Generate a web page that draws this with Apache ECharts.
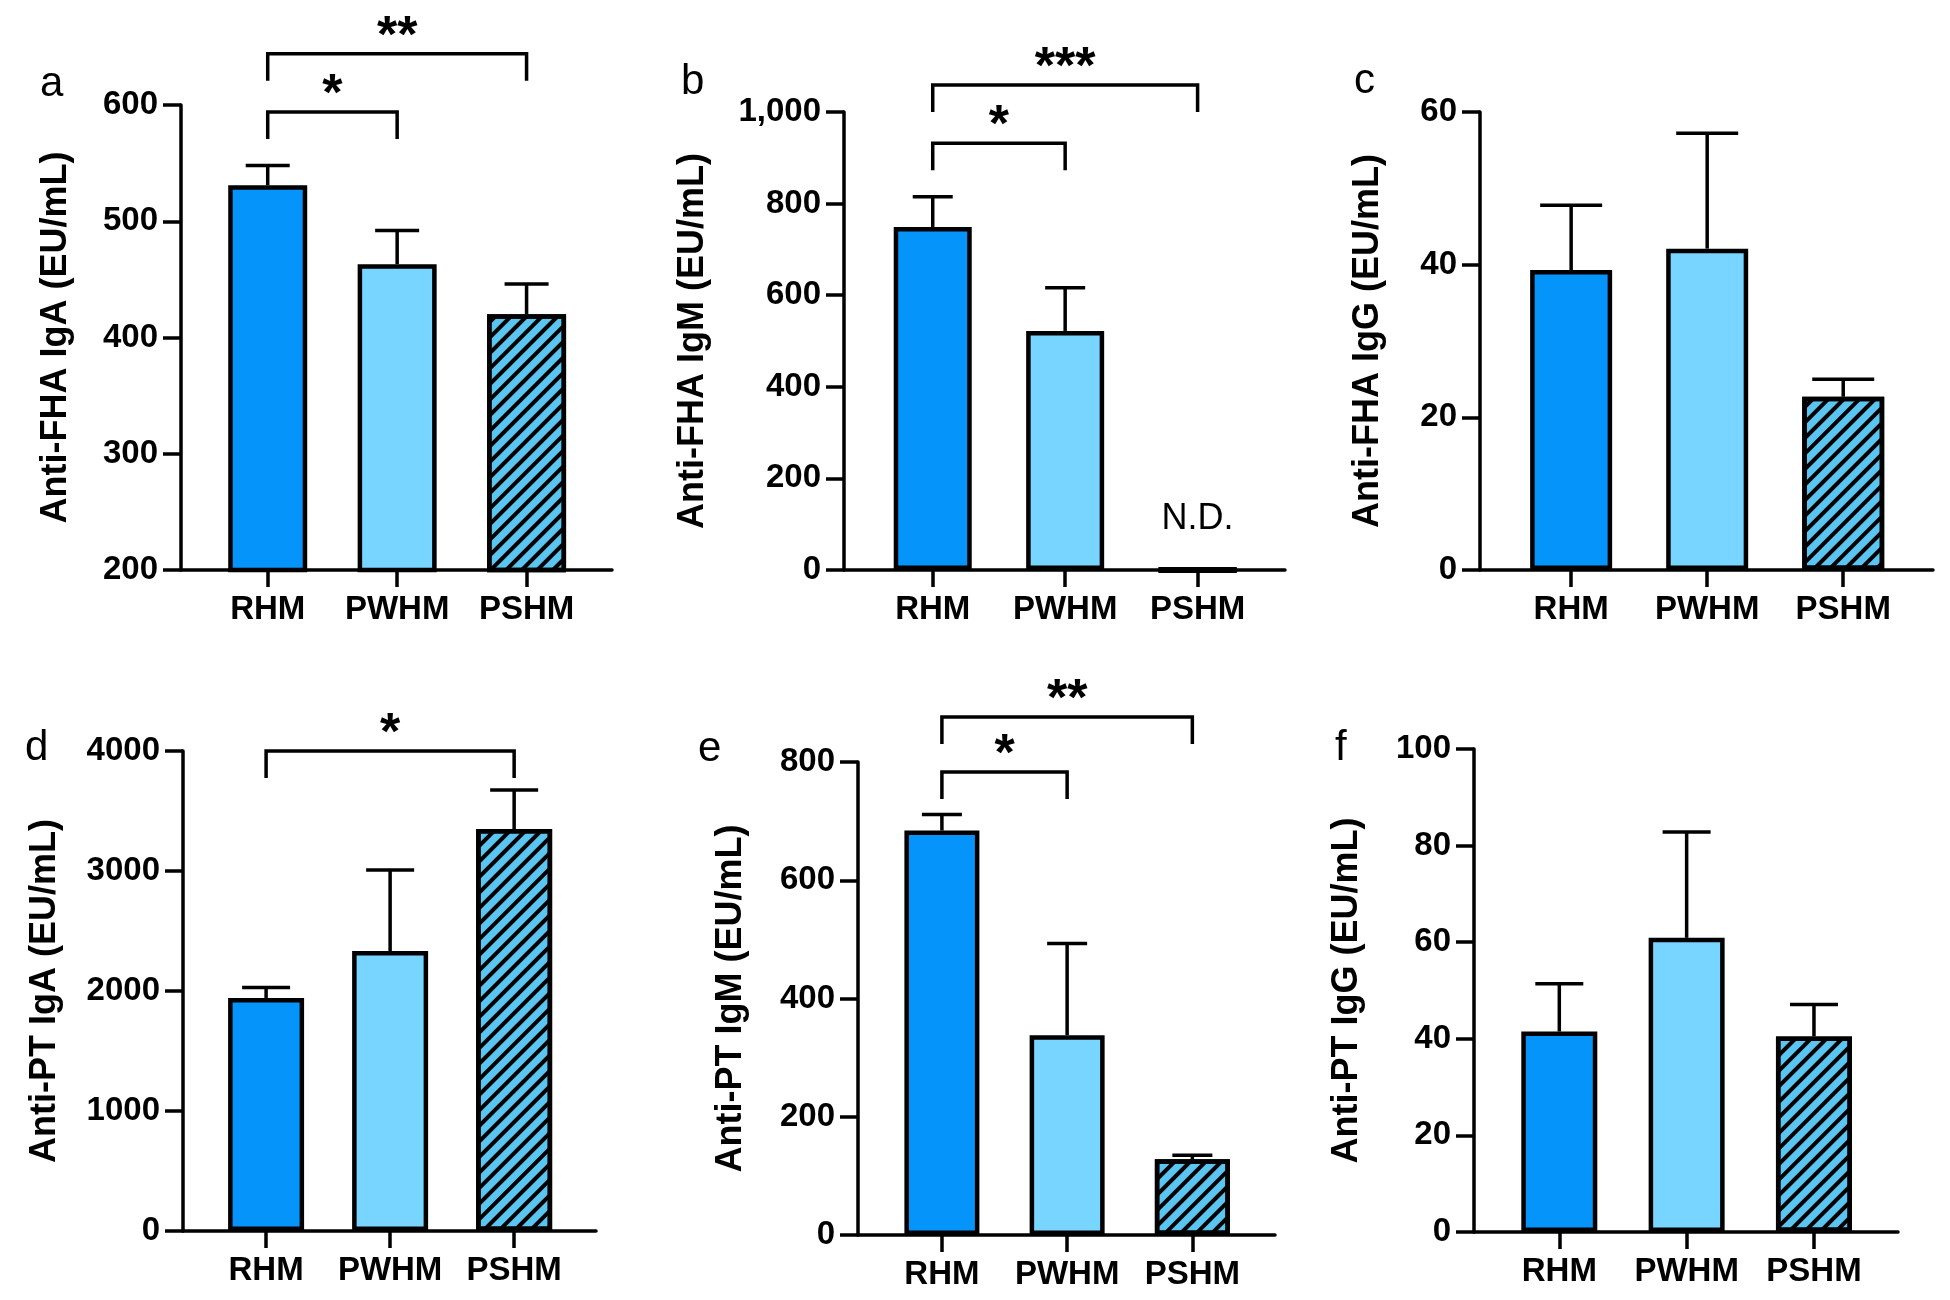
<!DOCTYPE html>
<html><head><meta charset="utf-8">
<script src="https://cdn.jsdelivr.net/npm/echarts@6/dist/echarts.min.js"></script>
<style>html,body{margin:0;padding:0;background:#fff}#c{width:1950px;height:1300px}</style>
</head><body><div id="c"></div>
<script>
// ---------------- data ----------------
const categories = ['RHM', 'PWHM', 'PSHM'];

const fhaIgAMean = [531, 463, 420];
const fhaIgASem  = [17, 29, 26];
const fhaIgMMean = [749, 522, 0];      // PSHM: N.D.
const fhaIgMSem  = [66, 94, 0];
const fhaIgGMean = [39.3, 42.1, 22.7];
const fhaIgGSem  = [8.5, 15.1, 2.3];
const ptIgAMean  = [1942, 2333, 3350];
const ptIgASem   = [87, 675, 325];
const ptIgMMean  = [684, 338, 128];
const ptIgMSem   = [27, 155, 7];
const ptIgGMean  = [41.5, 60.9, 40.5];
const ptIgGSem   = [9.9, 21.9, 6.6];

const notDetected = [false, false, true]; // panel b only

const sigA = [{from: 0, to: 1, label: '*'}, {from: 0, to: 2, label: '**'}];
const sigB = [{from: 0, to: 1, label: '*'}, {from: 0, to: 2, label: '***'}];
const sigD = [{from: 0, to: 2, label: '*'}];
const sigE = [{from: 0, to: 1, label: '*'}, {from: 0, to: 2, label: '**'}];

// ---------------- layout / style ----------------
const FONT = '"Liberation Sans", Arial, Helvetica, sans-serif';
const barColors = ['#0595FA', '#78D5FF', '#5BC5F2'];

const panels = [
  {letter: 'a', name: 'Anti-FHA IgA (EU/mL)', mean: fhaIgAMean, sem: fhaIgASem,
   yMin: 200, yMax: 600, yInt: 100, grid: {left: 181, top: 105, width: 431, height: 465},
   nameGap: 107, barW: 79, cap: 44, sig: sigA, levels: [594, 644], letterXY: [40, 84], comma: false},
  {letter: 'b', name: 'Anti-FHA IgM (EU/mL)', mean: fhaIgMMean, sem: fhaIgMSem,
   yMin: 0, yMax: 1000, yInt: 200, grid: {left: 844, top: 112, width: 441, height: 458},
   nameGap: 133, barW: 78, cap: 40, sig: sigB, levels: [932, 1059], letterXY: [681, 82], comma: true, nd: notDetected},
  {letter: 'c', name: 'Anti-FHA IgG (EU/mL)', mean: fhaIgGMean, sem: fhaIgGSem,
   yMin: 0, yMax: 60, yInt: 20, grid: {left: 1480, top: 112, width: 453, height: 458},
   nameGap: 94, barW: 82, cap: 62, sig: [], levels: [], letterXY: [1354, 81], comma: false},
  {letter: 'd', name: 'Anti-PT IgA (EU/mL)', mean: ptIgAMean, sem: ptIgASem,
   yMin: 0, yMax: 4000, yInt: 1000, grid: {left: 183, top: 751, width: 413, height: 480},
   nameGap: 120, barW: 76, cap: 48, sig: sigD, levels: [4000], letterXY: [25, 748], comma: false},
  {letter: 'e', name: 'Anti-PT IgM (EU/mL)', mean: ptIgMMean, sem: ptIgMSem,
   yMin: 0, yMax: 800, yInt: 200, grid: {left: 858, top: 762, width: 417, height: 473},
   nameGap: 109, barW: 75, cap: 40, sig: sigE, levels: [783, 876], letterXY: [698, 749], comma: false},
  {letter: 'f', name: 'Anti-PT IgG (EU/mL)', mean: ptIgGMean, sem: ptIgGSem,
   yMin: 0, yMax: 100, yInt: 20, grid: {left: 1474, top: 749, width: 424, height: 483},
   nameGap: 109, barW: 76, cap: 48, sig: [], levels: [], letterXY: [1335, 748], comma: false}
];

const X_MIN = -0.67, X_MAX = 2.66;
const catIdx = categories.map((c, i) => i);

const option = {
  backgroundColor: '#fff',
  animation: false,
  grid: [], xAxis: [], yAxis: [], series: [], graphic: []
};

panels.forEach((p, k) => {
  option.grid.push(Object.assign({containLabel: false}, p.grid));
  option.xAxis.push({
    type: 'value', gridIndex: k, min: X_MIN, max: X_MAX,
    axisLine: {show: true, onZero: false, lineStyle: {color: '#000', width: 3.5}},
    axisTick: {show: true, customValues: catIdx, length: 17, lineStyle: {color: '#000', width: 3.5}},
    axisLabel: {show: true, customValues: catIdx, margin: 23,
      formatter: v => categories[Math.round(v)],
      color: '#000', fontSize: 33, fontWeight: 'bold', fontFamily: FONT},
    splitLine: {show: false}
  });
  option.yAxis.push({
    type: 'value', gridIndex: k, min: p.yMin, max: p.yMax, interval: p.yInt,
    name: p.name, nameLocation: 'middle', nameGap: p.nameGap,
    nameTextStyle: {color: '#000', fontSize: 36, fontWeight: 'bold', fontFamily: FONT},
    axisLine: {show: true, onZero: false, lineStyle: {color: '#000', width: 3.5}},
    axisTick: {show: true, length: 18, lineStyle: {color: '#000', width: 3.5}},
    axisLabel: {margin: 23, color: '#000', fontSize: 33, fontWeight: 'bold', fontFamily: FONT,
      formatter: v => p.comma ? v.toLocaleString('en-US') : String(v)},
    splitLine: {show: false}
  });

  // bars
  option.series.push({
    type: 'bar', xAxisIndex: k, yAxisIndex: k, barWidth: p.barW, z: 3,
    data: p.mean.map((m, i) => {
      const item = {
        value: [i, m],
        itemStyle: {color: barColors[i], borderColor: '#000', borderWidth: 4.5}
      };
      if (i === 2) {
        item.itemStyle.decal = {
          symbol: 'rect', symbolSize: 1, dashArrayX: [1, 0], dashArrayY: [3.5, 7],
          rotation: -Math.PI / 4, color: '#000'
        };
      }
      if (p.nd && p.nd[i]) {
        item.itemStyle.borderWidth = 6;
        item.label = {show: true, position: 'top', distance: 30, formatter: 'N.D.',
          color: '#000', fontSize: 36, fontWeight: 'normal', fontFamily: FONT};
      }
      return item;
    })
  });

  // error bars (upper SEM only)
  option.series.push({
    type: 'custom', xAxisIndex: k, yAxisIndex: k, z: 2, clip: false,
    data: p.mean.map((m, i) => [i, m, m + p.sem[i]]),
    renderItem: (params, api) => {
      const x = api.value(0), m = api.value(1), t = api.value(2);
      if (!(t > m)) return null;
      const p0 = api.coord([x, m]);
      const p1 = api.coord([x, t]);
      const hw = p.cap / 2;
      return {type: 'group', children: [
        {type: 'line', shape: {x1: p0[0], y1: p0[1], x2: p1[0], y2: p1[1]}, style: {stroke: '#000', lineWidth: 3.5}},
        {type: 'line', shape: {x1: p1[0] - hw, y1: p1[1], x2: p1[0] + hw, y2: p1[1]}, style: {stroke: '#000', lineWidth: 3.5}}
      ]};
    }
  });

  // significance brackets
  if (p.sig.length) {
    option.series.push({
      type: 'custom', xAxisIndex: k, yAxisIndex: k, z: 4, clip: false,
      data: p.sig.map((s, j) => [s.from, s.to, p.levels[j]]),
      renderItem: (params, api) => {
        const a = api.coord([api.value(0), api.value(2)]);
        const b = api.coord([api.value(1), api.value(2)]);
        const drop = 27;
        const lbl = p.sig[params.dataIndex].label;
        return {type: 'group', children: [
          {type: 'polyline', shape: {points: [[a[0], a[1] + drop], [a[0], a[1]], [b[0], b[1]], [b[0], b[1] + drop]]},
           style: {stroke: '#000', lineWidth: 3.5, fill: null}},
          {type: 'text', style: {text: lbl, x: (a[0] + b[0]) / 2, y: a[1] - 16,
           align: 'center', verticalAlign: 'middle', font: 'bold 52px ' + FONT, fill: '#000'}}
        ]};
      }
    });
  }

  // panel letter
  option.graphic.push({
    type: 'text', x: p.letterXY[0], y: p.letterXY[1],
    style: {text: p.letter, align: 'left', verticalAlign: 'middle', font: 'normal 42px ' + FONT, fill: '#000'}
  });
});

const chart = echarts.init(document.getElementById('c'), null, {renderer: 'canvas'});
chart.setOption(option);
</script>
</body></html>
